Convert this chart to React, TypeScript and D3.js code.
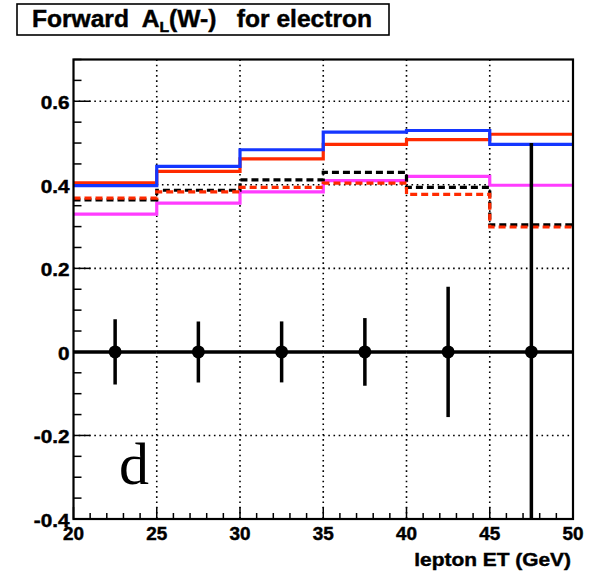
import React, { useMemo } from "react";
import * as d3 from "d3";

// bin edges in lepton ET (GeV)
const binEdges = [20, 25, 30, 35, 40, 45, 50];
const binCenters = [22.5, 27.5, 32.5, 37.5, 42.5, 47.5];

// histogram curves (one value per bin)
const redSolid = [0.405, 0.432, 0.462, 0.497, 0.508, 0.521];
const blueSolid = [0.398, 0.444, 0.484, 0.526, 0.53, 0.497];
const blackDashed = [0.364, 0.387, 0.412, 0.43, 0.394, 0.304];
const redDashed = [0.368, 0.383, 0.394, 0.404, 0.377, 0.299];
const magentaSolid = [0.33, 0.356, 0.383, 0.41, 0.42, 0.399];

// projected data points with errors
const pointValues = [0, 0, 0, 0, 0, 0];
const pointErrors = [0.078, 0.073, 0.073, 0.081, 0.156, 0.5];

const xTicks = [20, 25, 30, 35, 40, 45, 50];
const yTicks = [-0.4, -0.2, 0, 0.2, 0.4, 0.6];
const yTickLabels = ["-0.4", "-0.2", "0", "0.2", "0.4", "0.6"];

const FONT = "'Liberation Sans', Arial, Helvetica, sans-serif";

// text stretched horizontally a bit, the way the original canvas was
function Wide({ x, y, sx, anchor, size, children }: any) {
  return (
    <text
      transform={`translate(${x},${y}) scale(${sx},1)`}
      textAnchor={anchor}
      fontFamily={FONT}
      fontWeight="bold"
      fontSize={size}
      fill="#000"
      stroke="#000"
      strokeWidth={0.45}
      style={{ whiteSpace: "pre" }}
    >
      {children}
    </text>
  );
}

function App() {
  const width = 600;
  const height = 576;
  const MARGIN = { top: 59.5, right: 27, bottom: 57, left: 73.5 };
  const x0 = MARGIN.left;
  const x1 = width - MARGIN.right;
  const y0 = MARGIN.top;
  const y1 = height - MARGIN.bottom;

  const xScale = useMemo(() => d3.scaleLinear().domain([20, 50]).range([x0, x1]), []);
  const yScale = useMemo(() => d3.scaleLinear().domain([-0.4, 0.7]).range([y1, y0]), []);

  const histLine = d3
    .line<[number, number]>()
    .x((d) => xScale(d[0]))
    .y((d) => yScale(d[1]))
    .curve(d3.curveStepAfter);

  const histPath = (vals: number[]) => {
    const pts: [number, number][] = vals.map((v, i) => [binEdges[i], v]);
    pts.push([binEdges[binEdges.length - 1], vals[vals.length - 1]]);
    return histLine(pts) ?? "";
  };

  const xMinor = d3.range(20, 50.01, 1);
  const yMinor = d3.range(-0.4, 0.7001, 0.05);

  const curves = [
    { vals: magentaSolid, color: "#ff3cff", dash: "" },
    { vals: redSolid, color: "#ff2a00", dash: "" },
    { vals: blueSolid, color: "#1436ff", dash: "" },
    { vals: blackDashed, color: "#000000", dash: "7 4" },
    { vals: redDashed, color: "#ff2a00", dash: "7 4" },
  ];

  return (
    <svg
      width={width}
      height={height}
      style={{ position: "absolute", left: 0, top: 0, background: "#fff" }}
    >
      <defs>
        <clipPath id="frame">
          <rect x={x0} y={y0} width={x1 - x0} height={y1 - y0} />
        </clipPath>
      </defs>
      <rect x={0} y={0} width={width} height={height} fill="#fff" />

      {/* grid */}
      <g stroke="#000" strokeWidth={1.6} strokeDasharray="1.6 3.6">
        {xTicks.slice(1, -1).map((t) => (
          <line key={"gx" + t} x1={xScale(t)} x2={xScale(t)} y1={y0} y2={y1} />
        ))}
        {yTicks.slice(1).map((t) => (
          <line key={"gy" + t} x1={x0} x2={x1} y1={yScale(t)} y2={yScale(t)} />
        ))}
      </g>

      {/* ticks */}
      <g stroke="#000" strokeWidth={1.5}>
        {xMinor.map((t) => (
          <line
            key={"tx" + t}
            x1={xScale(t)}
            x2={xScale(t)}
            y1={y1}
            y2={y1 - (Math.round(t) % 5 === 0 ? 12 : 6)}
          />
        ))}
        {yMinor.map((t, i) => (
          <line
            key={"ty" + i}
            x1={x0}
            x2={x0 + (i % 4 === 0 ? 17 : 8)}
            y1={yScale(t)}
            y2={yScale(t)}
          />
        ))}
      </g>

      {/* histograms */}
      <g clipPath="url(#frame)" fill="none" strokeWidth={3.2}>
        {curves.map((c, i) => (
          <path key={i} d={histPath(c.vals)} stroke={c.color} strokeDasharray={c.dash || undefined} />
        ))}
      </g>

      {/* data points */}
      <g clipPath="url(#frame)" stroke="#000">
        {binCenters.map((c, i) => (
          <g key={"p" + i}>
            <line
              x1={xScale(binEdges[i])}
              x2={xScale(binEdges[i + 1])}
              y1={yScale(pointValues[i])}
              y2={yScale(pointValues[i])}
              strokeWidth={3.5}
            />
            <line
              x1={xScale(c)}
              x2={xScale(c)}
              y1={yScale(pointValues[i] + pointErrors[i])}
              y2={yScale(pointValues[i] - pointErrors[i])}
              strokeWidth={3.5}
            />
            <circle cx={xScale(c)} cy={yScale(pointValues[i])} r={6.5} fill="#000" stroke="none" />
          </g>
        ))}
      </g>

      {/* frame */}
      <rect x={x0} y={y0} width={x1 - x0} height={y1 - y0} fill="none" stroke="#000" strokeWidth={2.2} />

      {/* tick labels */}
      {xTicks.map((t) => (
        <Wide key={"lx" + t} x={xScale(t)} y={539.5} sx={1.05} anchor="middle" size={18}>
          {String(t)}
        </Wide>
      ))}
      {yTicks.map((t, i) => (
        <Wide key={"ly" + t} x={69.5} y={yScale(t) + 8} sx={1.15} anchor="end" size={18}>
          {yTickLabels[i]}
        </Wide>
      ))}
      <Wide x={x1 - 2} y={565.5} sx={1.1} anchor="end" size={19}>
        lepton ET (GeV)
      </Wide>

      {/* panel label */}
      <text x={119} y={484} fontFamily="'Liberation Serif', 'Times New Roman', serif" fontSize={60}>
        d
      </text>

      {/* title box */}
      <rect x={17} y={4} width={372} height={31} fill="#fff" stroke="#000" strokeWidth={1.6} />
      <text
        transform="translate(32,26.5) scale(1.055,1)"
        fontFamily={FONT}
        fontWeight="bold"
        fontSize={23.3}
        stroke="#000"
        strokeWidth={0.45}
        style={{ whiteSpace: "pre" }}
      >
        {"Forward  A"}
        <tspan fontSize={15} dy={5}>L</tspan>
        <tspan dy={-5}>{"(W-)   for electron"}</tspan>
      </text>
    </svg>
  );
}

export default App;
